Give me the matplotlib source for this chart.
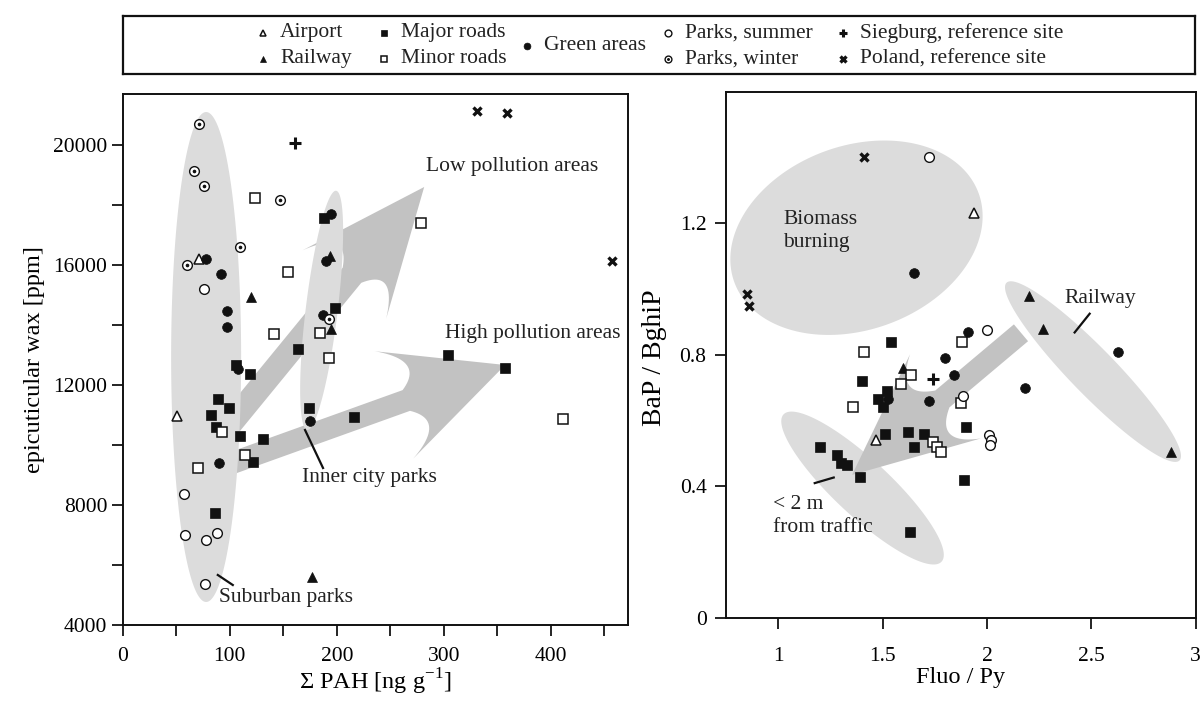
import numpy as np
import matplotlib.pyplot as plt
from matplotlib.patches import Polygon
from matplotlib.ticker import MultipleLocator, FuncFormatter

plt.rcParams['font.family'] = ['Liberation Serif', 'DejaVu Serif']
plt.rcParams['mathtext.fontset'] = 'custom'
plt.rcParams['mathtext.rm'] = 'Liberation Serif'
plt.rcParams['axes.linewidth'] = 1.2

# --- left panel: sum of PAH vs epicuticular wax ---
airport_pah = [71, 51]
airport_wax = [16200, 10970]
railway_pah = [120, 194, 195, 177]
railway_wax = [14920, 16310, 13860, 5590]
major_pah = [188, 198, 164, 304, 106, 119, 89, 99, 82, 87, 110, 131, 122, 174, 216, 86, 357]
major_wax = [17560, 14580, 13210, 13000, 12670, 12360, 11520, 11230, 11010, 10590,
             10290, 10190, 9420, 11240, 10940, 7740, 12580]
minor_pah = [124, 279, 154, 141, 184, 193, 93, 114, 70, 411]
minor_wax = [18220, 17390, 15760, 13710, 13730, 12910, 10420, 9680, 9240, 10860]
green_pah = [195, 78, 190, 92, 97, 97, 187, 108, 175, 90]
green_wax = [17710, 16200, 16140, 15710, 14480, 13940, 14320, 12520, 10800, 9390]
summer_pah = [76, 57, 58, 78, 88, 77]
summer_wax = [15210, 8380, 6990, 6830, 7070, 5360]
winter_pah = [71, 67, 76, 147, 110, 60, 193]
winter_wax = [20700, 19120, 18640, 18160, 16590, 16010, 14210]
sieg_pah = [161]
sieg_wax = [20080]
poland_pah = [331, 359, 457]
poland_wax = [21120, 21060, 16140]

# --- right panel: Fluo/Py vs BaP/BghiP ---
airport_fp = [1.94, 1.47]
airport_bap = [1.23, 0.54]
railway_fp = [2.20, 2.27, 2.88, 1.60]
railway_bap = [0.98, 0.88, 0.505, 0.76]
major_fp = [1.54, 1.40, 1.52, 1.48, 1.50, 1.51, 1.62, 1.70, 1.65, 1.90, 1.89,
            1.20, 1.28, 1.30, 1.33, 1.39, 1.63]
major_bap = [0.84, 0.72, 0.69, 0.665, 0.64, 0.56, 0.565, 0.56, 0.52, 0.58, 0.42,
             0.52, 0.495, 0.47, 0.465, 0.43, 0.26]
minor_fp = [1.41, 1.36, 1.635, 1.59, 1.88, 1.875, 1.74, 1.76, 1.78]
minor_bap = [0.81, 0.64, 0.74, 0.71, 0.84, 0.655, 0.535, 0.52, 0.505]
green_fp = [1.65, 1.91, 1.80, 1.84, 1.72, 2.18, 2.63, 1.525]
green_bap = [1.05, 0.87, 0.79, 0.74, 0.66, 0.70, 0.81, 0.665]
summer_fp = [1.72, 2.00, 1.885, 2.01, 2.02, 2.015]
summer_bap = [1.40, 0.875, 0.675, 0.555, 0.54, 0.525]
sieg_fp = [1.74]
sieg_bap = [0.727]
poland_fp = [1.41, 0.85, 0.86]
poland_bap = [1.40, 0.985, 0.947]

INK = '#111111'
ELL = '#dcdcdc'
ARR = '#c2c2c2'
FS = 15.5

STYLES = {
    'Airport': dict(marker='^', ms=7, mfc='white', mec=INK, mew=1.1),
    'Railway': dict(marker='^', ms=7, mfc=INK, mec=INK, mew=0.5),
    'Major roads': dict(marker='s', ms=7, mfc=INK, mec=INK, mew=0.5),
    'Minor roads': dict(marker='s', ms=6.5, mfc='white', mec=INK, mew=1.1),
    'Green areas': dict(marker='o', ms=7, mfc=INK, mec=INK, mew=0.5),
    'Parks, summer': dict(marker='o', ms=7, mfc='white', mec=INK, mew=1.0),
    'Parks, winter': dict(marker='o', ms=7, mfc='white', mec=INK, mew=1.0),
    'Siegburg, reference site': dict(marker='+', ms=8, mec=INK, mew=2.2),
    'Poland, reference site': dict(marker='x', ms=6, mec=INK, mew=2.4),
}


def scatter(ax, name, x, y, scale=1.0):
    st = dict(STYLES[name])
    st['ms'] = st['ms'] * scale
    ax.plot(x, y, ls='none', zorder=5, **st)
    if name == 'Parks, winter':
        ax.plot(x, y, ls='none', marker='o', ms=1.6 * scale, mfc=INK, mec=INK, zorder=6)


def ellipse(ax, center, a, b, angle, z=1):
    # a, b in pixels, angle in degrees (screen space)
    c = ax.transData.transform(center)
    t = np.linspace(0, 2 * np.pi, 240)
    th = np.radians(angle)
    x = a * np.cos(t) * np.cos(th) - b * np.sin(t) * np.sin(th)
    y = a * np.cos(t) * np.sin(th) + b * np.sin(t) * np.cos(th)
    pts = ax.transData.inverted().transform(np.column_stack([c[0] + x, c[1] + y]))
    ax.add_patch(Polygon(pts, closed=True, fc=ELL, ec='none', zorder=z))


def arrow(ax, tail, tip, shaft_w, head_w, head_len, back, z=1):
    p0, p1 = ax.transData.transform([tail, tip])
    u = (p1 - p0) / np.hypot(*(p1 - p0))
    n = np.array([-u[1], u[0]])
    base = p1 - u * head_len
    hs, hh = shaft_w / 2, head_w / 2
    tt = np.linspace(0, 1, 25)[:, None]

    def side(s):
        j = base + s * n * hs
        barb = base - u * back + s * n * hh
        ctrl = base + u * head_len * 0.3 + s * n * (hs + (hh - hs) * 0.45)
        return (1 - tt) ** 2 * j + 2 * (1 - tt) * tt * ctrl + tt ** 2 * barb

    pts = np.vstack([p0 + n * hs, side(1), p1, side(-1)[::-1], p0 - n * hs])
    pts = ax.transData.inverted().transform(pts)
    ax.add_patch(Polygon(pts, closed=True, fc=ARR, ec='none', zorder=z))


def style_axes(ax):
    ax.tick_params(which='both', direction='out', length=8, width=1.2,
                   labelsize=15.5, top=False, right=False)
    for sp in ax.spines.values():
        sp.set_linewidth(1.4)
        sp.set_color(INK)


fig = plt.figure(figsize=(12.01, 7.02), dpi=100)

# ---------------- left panel ----------------
ax1 = fig.add_axes([0.1022, 0.1097, 0.4207, 0.7564])
ax1.set_xlim(0, 472)
ax1.set_ylim(4000, 21700)
ax1.xaxis.set_major_locator(MultipleLocator(100))
ax1.xaxis.set_minor_locator(MultipleLocator(50))
ax1.yaxis.set_major_locator(MultipleLocator(4000))
ax1.yaxis.set_minor_locator(MultipleLocator(2000))
style_axes(ax1)
ax1.tick_params(axis='x', which='both', pad=8)
ax1.tick_params(axis='y', which='both', pad=3)

arrow(ax1, (100.7, 10713), (281.6, 18600), 24, 108, 114, 12, z=1)
arrow(ax1, (99, 9357), (357.2, 12667), 22, 114, 105, 13, z=1)
ellipse(ax1, (77.9, 12933), 245, 35, 90, z=2)
ellipse(ax1, (185.8, 14487), 120.5, 16, 83.1, z=2)

ax1.plot([170.3, 187.1], [10500, 9233], color=INK, lw=1.6, zorder=4)
ax1.plot([88.8, 102.8], [5667, 5333], color=INK, lw=1.6, zorder=4)
ax1.text(283.5, 19267, 'Low pollution areas', fontsize=FS, va='center', color='#222222')
ax1.text(301.2, 13733, 'High pollution areas', fontsize=FS, va='center', color='#222222')
ax1.text(167.3, 8900, 'Inner city parks', fontsize=FS, va='center', color='#222222')
ax1.text(90.3, 4900, 'Suburban parks', fontsize=FS, va='center', color='#222222')

scatter(ax1, 'Airport', airport_pah, airport_wax)
scatter(ax1, 'Railway', railway_pah, railway_wax)
scatter(ax1, 'Major roads', major_pah, major_wax)
scatter(ax1, 'Minor roads', minor_pah, minor_wax)
scatter(ax1, 'Green areas', green_pah, green_wax)
scatter(ax1, 'Parks, summer', summer_pah, summer_wax)
scatter(ax1, 'Parks, winter', winter_pah, winter_wax)
scatter(ax1, 'Siegburg, reference site', sieg_pah, sieg_wax)
scatter(ax1, 'Poland, reference site', poland_pah, poland_wax)

ax1.set_xlabel('\u03a3 PAH [ng g$^{\\mathrm{-1}}$]', fontsize=17.5)
ax1.set_ylabel('epicuticular wax [ppm]', fontsize=17.5)
ax1.yaxis.set_label_coords(-0.154, 0.5)
ax1.xaxis.set_label_coords(0.5, -0.079)

# ---------------- right panel ----------------
ax2 = fig.add_axes([0.6045, 0.1197, 0.3911, 0.7497])
ax2.set_xlim(0.75, 3.0)
ax2.set_ylim(0, 1.6)
ax2.set_xticks([1, 1.5, 2, 2.5, 3])
ax2.set_yticks([0, 0.4, 0.8, 1.2])
fmt = FuncFormatter(lambda v, p: '%g' % v)
ax2.xaxis.set_major_formatter(fmt)
ax2.yaxis.set_major_formatter(fmt)
style_axes(ax2)
ax2.tick_params(axis='x', pad=13)
ax2.tick_params(axis='y', pad=6)

ellipse(ax2, (1.375, 1.156), 130, 92, 20, z=1)
ellipse(ax2, (1.404, 0.395), 108, 28, -43, z=1)
ellipse(ax2, (2.508, 0.749), 124, 23, -45.8, z=1)
arrow(ax2, (2.163, 0.867), (1.354, 0.435), 22, 110, 118, 4, z=2)

ax2.plot([1.175, 1.266], [0.410, 0.427], color=INK, lw=1.6, zorder=4)
ax2.plot([2.492, 2.420], [0.925, 0.868], color=INK, lw=1.6, zorder=4)
ax2.text(1.024, 1.176, 'Biomass\nburning', fontsize=FS, va='center', linespacing=1.25,
         color='#222222')
ax2.text(0.976, 0.310, '< 2 m\nfrom traffic', fontsize=FS, va='center', linespacing=1.25,
         color='#222222')
ax2.text(2.372, 0.971, 'Railway', fontsize=FS, va='center', color='#222222')

scatter(ax2, 'Airport', airport_fp, airport_bap)
scatter(ax2, 'Railway', railway_fp, railway_bap)
scatter(ax2, 'Major roads', major_fp, major_bap)
scatter(ax2, 'Minor roads', minor_fp, minor_bap)
scatter(ax2, 'Green areas', green_fp, green_bap)
scatter(ax2, 'Parks, summer', summer_fp, summer_bap)
scatter(ax2, 'Siegburg, reference site', sieg_fp, sieg_bap)
scatter(ax2, 'Poland, reference site', poland_fp, poland_bap)

ax2.set_xlabel('Fluo / Py', fontsize=17.5)
ax2.set_ylabel('BaP / BghiP', fontsize=20)
ax2.yaxis.set_label_coords(-0.126, 0.495)
ax2.xaxis.set_label_coords(0.5, -0.093)

# ---------------- legend box ----------------
lg = fig.add_axes([0.1022, 0.8942, 0.8928, 0.0835])
lg.set_xlim(0, 1)
lg.set_ylim(0, 1)
lg.set_xticks([])
lg.set_yticks([])
for sp in lg.spines.values():
    sp.set_linewidth(1.6)
    sp.set_color(INK)

legend_names = ['Airport', 'Railway', 'Major roads', 'Minor roads', 'Green areas',
                'Parks, summer', 'Parks, winter', 'Siegburg, reference site',
                'Poland, reference site']
legend_x = [0.1308, 0.1308, 0.2437, 0.2437, 0.3770, 0.5085, 0.5085, 0.6718, 0.6718]
legend_y = [0.705, 0.261, 0.705, 0.261, 0.483, 0.705, 0.261, 0.705, 0.261]
for name, lx, ly in zip(legend_names, legend_x, legend_y):
    scatter(lg, name, [lx], [ly], scale=0.7)
    lg.text(lx + 0.016, ly, name, fontsize=FS, va='center', color='#222222')

fig.savefig('out.png', dpi=100)
